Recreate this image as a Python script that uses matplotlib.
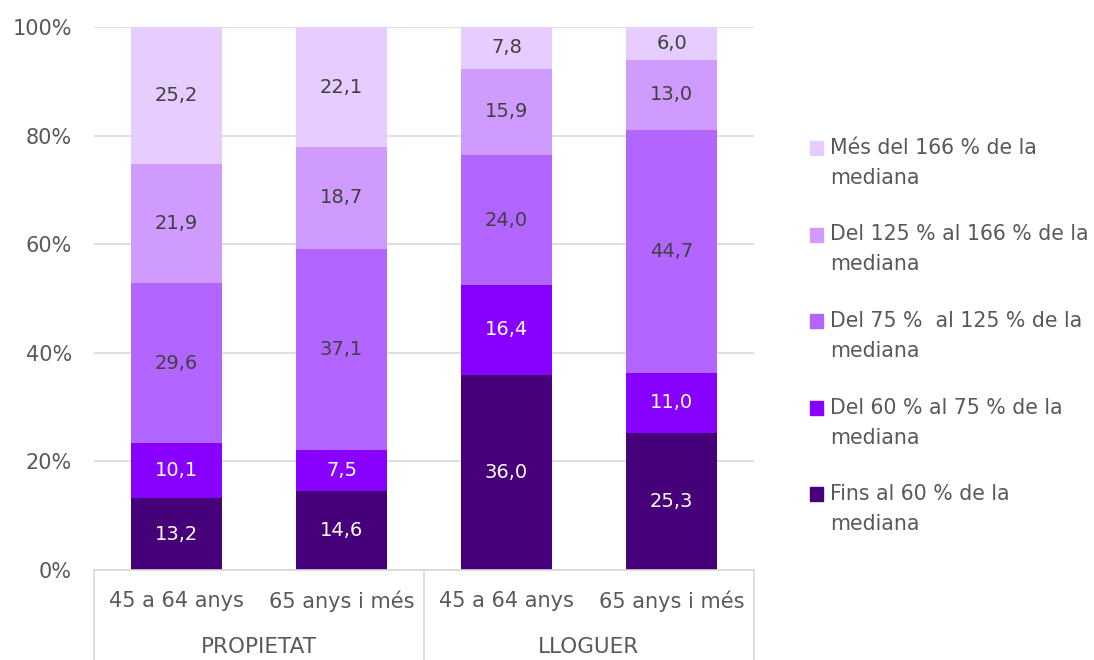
import matplotlib
matplotlib.use('Agg')
import matplotlib.pyplot as plt
import numpy as np
from matplotlib.patches import Rectangle

plt.rcParams['font.family'] = ['DejaVu Sans']

# age groups inside each tenure group
subcats = ['45 a 64 anys', '65 anys i més', '45 a 64 anys', '65 anys i més']
groups = ['PROPIETAT', 'LLOGUER']

# income bands, bottom to top of the stack
series = ['Fins al 60 % de la\nmediana',
          'Del 60 % al 75 % de la\nmediana',
          'Del 75 %  al 125 % de la\nmediana',
          'Del 125 % al 166 % de la\nmediana',
          'Més del 166 % de la\nmediana']
fins60 = [13.2, 14.6, 36.0, 25.3]
del60_75 = [10.1, 7.5, 16.4, 11.0]
del75_125 = [29.6, 37.1, 24.0, 44.7]
del125_166 = [21.9, 18.7, 15.9, 13.0]
mes166 = [25.2, 22.1, 7.8, 6.0]
values = [fins60, del60_75, del75_125, del125_166, mes166]

colors = ['#45007A', '#8800FF', '#B366FF', '#D09BFF', '#E6CCFF']
label_colors = ['white', 'white', '#404040', '#404040', '#404040']
grey = '#595959'
line_grey = '#D9D9D9'

fig = plt.figure(figsize=(10.94, 6.6), dpi=100)
ax = fig.add_axes([94/1094, 90/660, 660/1094, 543/660])

x = np.arange(len(subcats))
bottom = np.zeros(len(subcats))
for vals, c, lc in zip(values, colors, label_colors):
    vals = np.array(vals)
    ax.bar(x, vals, width=0.55, bottom=bottom, color=c, zorder=2)
    for xi, b, v in zip(x, bottom, vals):
        ax.text(xi, b + v/2, ('%.1f' % v).replace('.', ','), ha='center', va='center',
                fontsize=14, color=lc, zorder=3)
    bottom += vals

ax.set_xlim(-0.5, len(subcats) - 0.5)
ax.set_ylim(0, 100)
ax.set_yticks(np.arange(0, 101, 20))
ax.set_yticklabels(['%d%%' % t for t in range(0, 101, 20)])
ax.tick_params(axis='y', length=0, pad=16, labelsize=15, labelcolor=grey)
ax.grid(axis='y', color=line_grey, linewidth=1.2, zorder=0)
ax.set_xticks([])
for s in ['left', 'right', 'top']:
    ax.spines[s].set_visible(False)
ax.spines['bottom'].set_color(line_grey)
ax.spines['bottom'].set_linewidth(1.2)

# two-level category axis
trans = ax.get_xaxis_transform()
for xs in [-0.5, 1.5, 3.5]:
    ax.plot([xs, xs], [0, -0.17], color=line_grey, linewidth=1.2,
            transform=trans, clip_on=False)
for xi, s in zip(x, subcats):
    ax.text(xi, -31/543, s, transform=trans, ha='center', va='center',
            fontsize=15, color=grey)
for gi, g in enumerate(groups):
    ax.text(2*gi + 0.5, -77/543, g, transform=trans, ha='center', va='center',
            fontsize=15.5, color=grey)

# legend, top band first
for i, (name, c) in enumerate(zip(series[::-1], colors[::-1])):
    yc = 148 + i*86.5
    fig.patches.append(Rectangle((810/1094, 1 - (yc + 7)/660), 13/1094, 14/660,
                                 color=c, transform=fig.transFigure))
    for j, line in enumerate(name.split('\n')):
        fig.text(830/1094, 1 - (yc + j*30)/660, line, ha='left', va='center',
                 fontsize=14.8, color=grey)

fig.savefig('out.png', dpi=100, facecolor='white')
